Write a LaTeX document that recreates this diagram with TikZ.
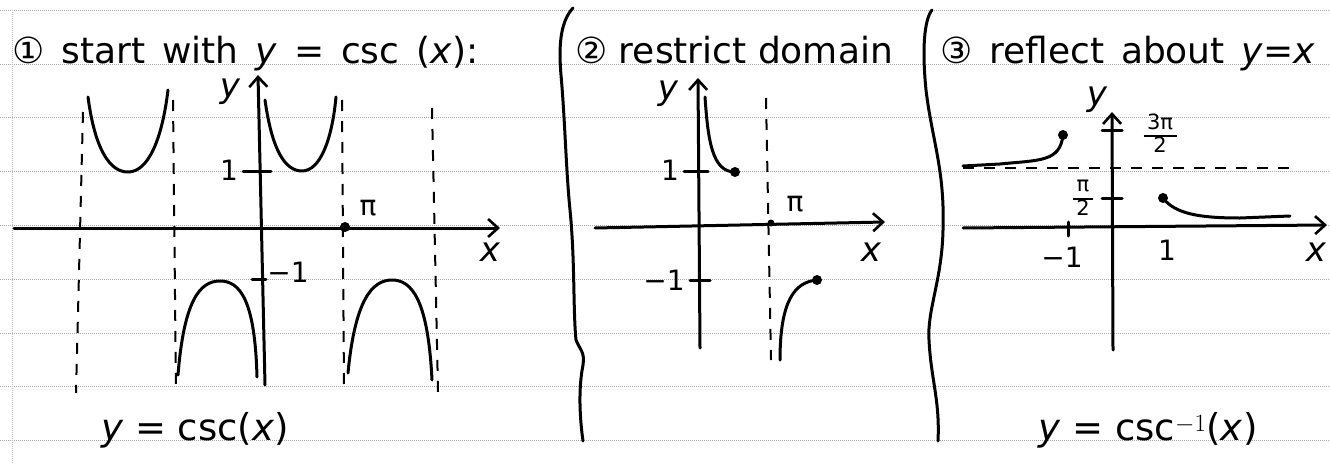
\documentclass[tikz,border=0pt]{standalone}
\usepackage{fontspec}
\setmainfont{DejaVu Sans}
\usetikzlibrary{arrows.meta}
\newcommand{\hfrac}[2]{\renewcommand{\arraystretch}{0.85}\setlength{\arrayrulewidth}{2.5pt}\begin{tabular}{@{\,}c@{\,}}#1\\\hline #2\end{tabular}}
\tikzset{
  rule/.style={gray!70, line width=0.6pt, dash pattern=on 1pt off 1pt},
  ink/.style={black, line width=3pt, line cap=round, line join=round},
  axis/.style={ink, -{Straight Barb[length=10pt,width=18pt,line width=2.6pt]}},
  asym/.style={black, line width=2pt, dash pattern=on 11pt off 10pt},
  title/.style={anchor=base west, inner sep=0pt, font=\fontsize{36}{40}\selectfont},
  lbl/.style={inner sep=0pt, font=\fontsize{28}{30}\selectfont},
  frac/.style={inner sep=0pt, font=\fontsize{21}{22}\selectfont},
  big/.style={inner sep=0pt, font=\fontsize{34}{36}\selectfont},
  bot/.style={inner sep=0pt, font=\fontsize{37}{40}\selectfont},
  dot/.style={circle, fill=black, inner sep=0pt, minimum size=10pt},
  sdot/.style={circle, fill=black, inner sep=0pt, minimum size=7pt}
}
\begin{document}
\begin{tikzpicture}[x=1pt,y=-1pt]
\path[use as bounding box, fill=white] (0,0) rectangle (1330,463);
% ruled paper
\foreach \yy in {10,63.8,117.6,171.4,225.2,279,332.8,386.6,440.4}
  \draw[rule] (0,\yy) -- (1330,\yy);
\draw[rule, gray!50] (12,10) -- (12,463);

% ---------- panel 1 ----------
\node[title] (t1) at (12,63) {\makebox[466pt][s]{① start with \textit{y} = csc (\textit{x}):}};
\coordinate (x1s) at (14,228); \coordinate (x1e) at (500,228);
\coordinate (y1s) at (265,385); \coordinate (y1e) at (258,75);
\draw[axis] (x1s) -- (x1e);
\draw[axis] (y1s) -- (y1e);
\node[big] (y1l) at (230,92) {\textit{y}};
\node[big] (x1l) at (490,252) {\textit{x}};
\draw[ink] (243,171) -- (271,171);
\node[lbl] (one1) at (229,170) {1};
\draw[ink] (252,279) -- (266,279);
\node[lbl] (m1) at (288,272) {−1};
\draw[asym] (83,112) -- (76,393);
\draw[asym] (173,100) -- (176,393);
\draw[asym] (342,100) -- (344,390);
\draw[asym] (432,108) -- (438,392);
\draw[ink] (88,97) .. controls (95,150) and (110,172) .. (128,172) .. controls (148,172) and (162,140) .. (168,90);
\draw[ink] (265,100) .. controls (272,150) and (285,171) .. (302,171) .. controls (320,171) and (332,140) .. (336,97);
\draw[ink] (178,375) .. controls (184,300) and (200,281) .. (220,281) .. controls (240,281) and (255,300) .. (257,377);
\draw[ink] (348,373) .. controls (355,300) and (372,280) .. (392,280) .. controls (412,280) and (428,300) .. (432,380);
\node[dot] (pi1d) at (345,227) {};
\node[lbl] (pi1) at (368,208) {π};
\node[bot] (b1) at (195,430) {\textit{y} = csc(\textit{x})};

% ---------- separator 1 ----------
\draw[ink] (573,8) .. controls (562,20) and (558,40) .. (561,75)
  .. controls (565,120) and (566,170) .. (570,210)
  .. controls (575,260) and (573,310) .. (576,340)
  .. controls (580,350) and (585,352) .. (583,365)
  .. controls (578,390) and (580,420) .. (583,441);

% ---------- panel 2 ----------
\node[title] (t2) at (575,63) {② restrict domain};
\coordinate (x2s) at (595,228); \coordinate (x2e) at (885,222);
\coordinate (y2s) at (700,348); \coordinate (y2e) at (698,78);
\draw[axis] (x2s) -- (x2e);
\draw[axis] (y2s) -- (y2e);
\node[big] (y2l) at (668,94) {\textit{y}};
\node[big] (x2l) at (871,252) {\textit{x}};
\draw[ink] (684,171) -- (708,171);
\node[lbl] (one2) at (670,170) {1};
\draw[ink] (690,280) -- (710,280);
\node[lbl] (m2) at (664,280) {−1};
\draw[asym] (766,98) -- (771,360);
\draw[ink] (705,97) .. controls (708,140) and (712,172) .. (735,172);
\node[dot] (d2a) at (735,172) {};
\draw[ink] (780,360) .. controls (780,300) and (795,282) .. (817,280);
\node[dot] (d2b) at (817,280) {};
\node[sdot] (pi2d) at (771,223) {};
\node[lbl] (pi2) at (795,204) {π};

% ---------- separator 2 ----------
\draw[ink] (932,10) .. controls (924,20) and (922,50) .. (926,90)
  .. controls (932,140) and (945,170) .. (943,230)
  .. controls (942,280) and (927,310) .. (929,340)
  .. controls (931,380) and (940,400) .. (938,441);

% ---------- panel 3 ----------
\node[title] (t3) at (940,63) {\makebox[375pt][s]{③ reflect about \textit{y}=\textit{x}}};
\coordinate (x3s) at (963,228); \coordinate (x3e) at (1327,225);
\coordinate (y3s) at (1113,350); \coordinate (y3e) at (1112,112);
\draw[axis] (x3s) -- (x3e);
\draw[axis] (y3s) -- (y3e);
\node[big] (y3l) at (1097,100) {\textit{y}};
\node[big] (x3l) at (1316,252) {\textit{x}};
\draw[asym] (963,168) -- (1292,168);
\draw[ink] (1102,130) -- (1122,130);
\draw[ink] (1102,198) -- (1122,198);
\node[frac] (tp) at (1160,136) {\hfrac{3π}{2}};
\node[frac] (hp) at (1083,200) {\hfrac{π}{2}};
\draw[ink] (1068,222) -- (1068,236);
\node[lbl] (m3) at (1062,257) {−1};
\node[lbl] (p3) at (1167,250) {1};
\draw[ink] (963,166) -- (1000,164) .. controls (1040,160) and (1060,162) .. (1063,135);
\node[dot] (d3a) at (1063,135) {};
\draw[ink] (1163,198) .. controls (1175,214) and (1200,218) .. (1240,218) -- (1290,216);
\node[dot] (d3b) at (1163,198) {};
\node[bot] (b3) at (1148,430) {\textit{y} = csc$^{-1}$(\textit{x})};
\end{tikzpicture}
\end{document}
